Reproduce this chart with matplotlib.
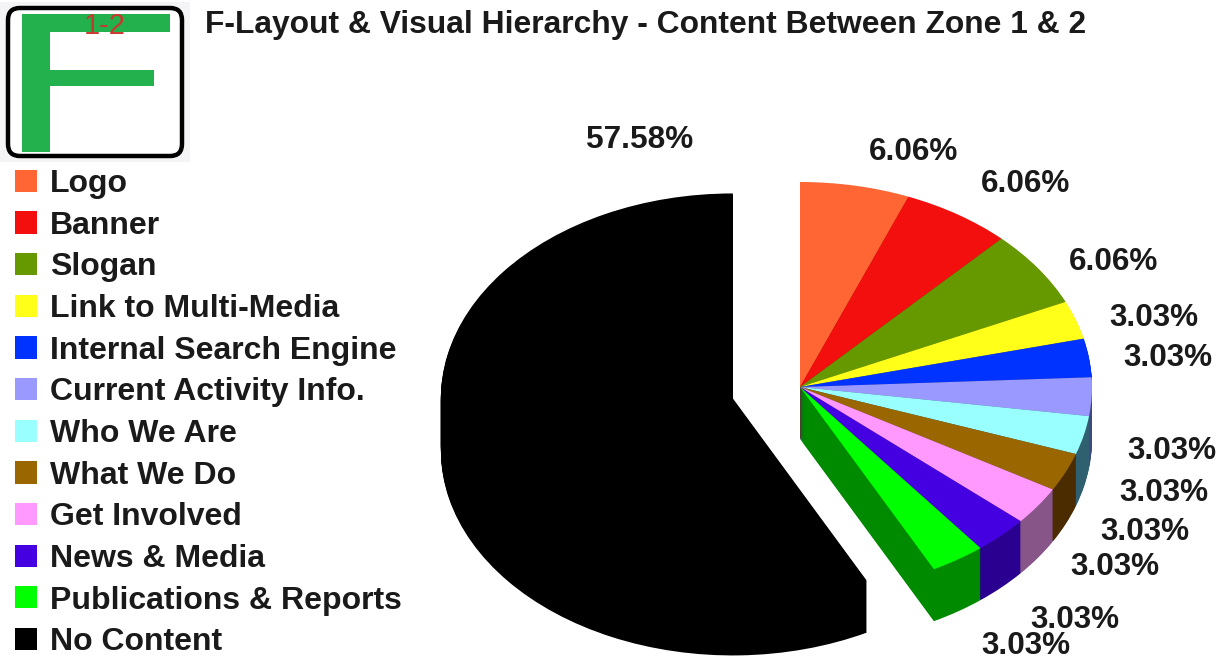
import matplotlib
matplotlib.use("Agg")
import matplotlib.pyplot as plt
from matplotlib.patches import FancyBboxPatch, Rectangle

plt.rcParams["font.family"] = ["Liberation Sans", "DejaVu Sans"]

categories = [
    "Logo", "Banner", "Slogan", "Link to Multi-Media", "Internal Search Engine",
    "Current Activity Info.", "Who We Are", "What We Do", "Get Involved",
    "News & Media", "Publications & Reports", "No Content",
]
shares = [6.06, 6.06, 6.06, 3.03, 3.03, 3.03, 3.03, 3.03, 3.03, 3.03, 3.03, 57.58]
colors = [
    "#ff6633", "#f40f0f", "#669900", "#ffff1a", "#0033ff", "#9999ff",
    "#99ffff", "#996600", "#ff99ff", "#4400e0", "#00ff00", "#000000",
]
side_colors = [
    "#8c381c", "#860808", "#385400", "#8c8c0e", "#001c8c", "#3d4a80",
    "#2f6070", "#4a2c00", "#885588", "#2a0090", "#008a00", "#000000",
]
explode = [0] * 11 + [0.2366]

# label centres in image pixels
label_pos = [
    (914, 152), (1026, 184), (1114, 262), (1154, 318), (1168, 358), (1172, 451),
    (1164, 493), (1145, 532), (1115, 567), (1075, 620), (1026, 646), (640, 140),
]

WIDTH, HEIGHT = 1228, 659
CX, CY, RX, RY = 800, 387, 292, 205
DEPTH = 52

fig = plt.figure(figsize=(WIDTH / 100, HEIGHT / 100), dpi=100, facecolor="white")

# pie axes: data units are pie radii, so the circle comes out as a flat ellipse
ax = fig.add_axes([0, 0, 1, 1])
for d in range(DEPTH, 0, -1):
    ax.pie(shares, colors=side_colors, explode=explode, startangle=90,
           counterclock=False, center=(0, -d / RY), wedgeprops={"linewidth": 0})
wedges, _ = ax.pie(shares, colors=colors, explode=explode, startangle=90,
                   counterclock=False, wedgeprops={"linewidth": 0})
ax.set_aspect("auto")
ax.set_xlim(-CX / RX, (WIDTH - CX) / RX)
ax.set_ylim(-(HEIGHT - CY) / RY, CY / RY)
ax.axis("off")

# overlay in image pixels for text and the little F badge
top = fig.add_axes([0, 0, 1, 1])
top.set_xlim(0, WIDTH)
top.set_ylim(HEIGHT, 0)
top.axis("off")
top.patch.set_alpha(0)

top.add_patch(Rectangle((0, 2), 190, 160, facecolor="#f4f4f6", linewidth=0))
top.add_patch(FancyBboxPatch((18, 18), 154, 128, boxstyle="round,pad=10,rounding_size=12",
                             facecolor="white", edgecolor="black", linewidth=3.2))
green = "#22b14c"
top.add_patch(Rectangle((22, 14), 148, 18, facecolor=green, linewidth=0))
top.add_patch(Rectangle((22, 14), 28, 138, facecolor=green, linewidth=0))
top.add_patch(Rectangle((50, 70), 104, 16, facecolor=green, linewidth=0))
top.text(105, 26, "1-2", color="#c8382e", fontsize=21, ha="center", va="center")

top.text(205, 25, "F-Layout & Visual Hierarchy - Content Between Zone 1 & 2",
         fontsize=22.9, fontweight="bold", color="#1a1a1a", ha="left", va="center")

for share, (x, y) in zip(shares, label_pos):
    top.text(x, y, f"{share:.2f}%", fontsize=22.7, fontweight="bold", color="#1a1a1a",
             ha="center", va="center")

top.legend(
    wedges, categories, loc="upper left",
    bbox_to_anchor=(15 / WIDTH, 1 - 169 / HEIGHT),
    frameon=False, borderpad=0, borderaxespad=0,
    handlelength=0.69, handleheight=0.69, handletextpad=0.41, labelspacing=0.365,
    labelcolor="#1a1a1a", prop={"weight": "bold", "size": 23},
)

fig.savefig("out.png", dpi=100)
